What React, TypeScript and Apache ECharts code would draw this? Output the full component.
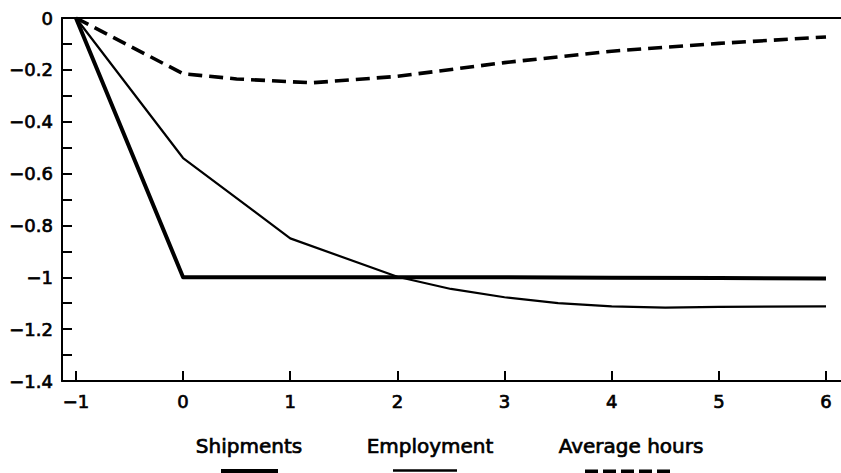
import React, { useEffect, useRef } from "react";
import * as echarts from "echarts";

// ---- data ----
const xTicks = [-1, 0, 1, 2, 3, 4, 5, 6];

const shipmentsX = [-1, 0, 1, 2, 3, 4, 5, 6];
const shipmentsY = [0, -1.0, -1.0, -1.0, -1.0, -1.002, -1.003, -1.005];

const employmentX = [-1, 0, 1, 2, 2.5, 3, 3.5, 4, 4.5, 5, 6];
const employmentY = [0, -0.54, -0.85, -0.998, -1.045, -1.077, -1.1, -1.112, -1.117, -1.114, -1.112];

const hoursX = [-1, 0, 0.5, 1.2, 2, 3, 4, 5, 6];
const hoursY = [0, -0.215, -0.235, -0.25, -0.225, -0.172, -0.128, -0.098, -0.073];

const legendNames = ["Shipments", "Employment", "Average hours"];

const FONT = '"DejaVu Sans", sans-serif';

function pairs(xs: number[], ys: number[]): [number, number][] {
  return xs.map((x, i) => [x, ys[i]]);
}

function fmt(v: number): string {
  const r = Math.round(v * 10) / 10;
  if (r === 0) return "0";
  const s = String(Math.abs(r));
  return (r < 0 ? "\u2212" : "") + s;
}

export default function App() {
  const ref = useRef<HTMLDivElement>(null);

  useEffect(() => {
    if (!ref.current) return;
    const chart = echarts.init(ref.current, null, { renderer: "svg" });
    const labelStyle = {
      color: "#000",
      fontFamily: FONT,
      fontSize: 18,
      textBorderColor: "#000",
      textBorderWidth: 0.7,
    };
    const legendText = (text: string, x: number) => ({
      type: "text",
      x,
      y: 446,
      style: {
        text,
        font: `20px ${FONT}`,
        fill: "#000",
        stroke: "#000",
        lineWidth: 0.7,
        align: "center",
        verticalAlign: "middle",
      },
    });
    const option: any = {
      animation: false,
      backgroundColor: "#fff",
      grid: { left: 62, right: 0, top: 18, bottom: 92, containLabel: false },
      xAxis: [
        {
          type: "value",
          position: "bottom",
          min: -1.13,
          max: 6.14,
          axisLine: { show: true, onZero: false, lineStyle: { color: "#000", width: 2 } },
          axisTick: {
            show: true,
            inside: true,
            length: 10,
            customValues: xTicks,
            lineStyle: { color: "#000", width: 2 },
          },
          axisLabel: {
            show: true,
            customValues: xTicks,
            margin: 11,
            formatter: (v: number) => fmt(v),
            ...labelStyle,
          },
          splitLine: { show: false },
        },
        {
          type: "value",
          position: "top",
          min: -1.13,
          max: 6.14,
          axisLine: { show: true, onZero: false, lineStyle: { color: "#000", width: 2 } },
          axisTick: { show: false },
          axisLabel: { show: false },
          splitLine: { show: false },
        },
      ],
      yAxis: {
        type: "value",
        min: -1.4,
        max: 0,
        interval: 0.1,
        axisLine: { show: true, onZero: false, lineStyle: { color: "#000", width: 2 } },
        axisTick: { show: true, inside: true, length: 10, lineStyle: { color: "#000", width: 2 } },
        axisLabel: {
          margin: 9,
          ...labelStyle,
          formatter: (v: number) => {
            const k = Math.round(v * 10);
            return k % 2 === 0 ? fmt(v) : "";
          },
        },
        splitLine: { show: false },
      },
      series: [
        {
          name: legendNames[0],
          type: "line",
          data: pairs(shipmentsX, shipmentsY),
          showSymbol: false,
          lineStyle: { color: "#000", width: 4, join: "round" },
        },
        {
          name: legendNames[1],
          type: "line",
          data: pairs(employmentX, employmentY),
          showSymbol: false,
          lineStyle: { color: "#000", width: 2.2 },
        },
        {
          name: legendNames[2],
          type: "line",
          data: pairs(hoursX, hoursY),
          showSymbol: false,
          lineStyle: { color: "#000", width: 3.6, type: [14, 7] },
        },
      ],
      graphic: [
        legendText(legendNames[0], 249),
        legendText(legendNames[1], 430),
        legendText(legendNames[2], 631),
        {
          type: "rect",
          shape: { x: 221, y: 469, width: 57, height: 6 },
          style: { fill: "#000" },
        },
        {
          type: "line",
          shape: { x1: 393, y1: 470.5, x2: 457, y2: 470.5 },
          style: { stroke: "#000", lineWidth: 2.5 },
        },
        {
          type: "line",
          shape: { x1: 585, y1: 471.5, x2: 670, y2: 471.5 },
          style: { stroke: "#000", lineWidth: 4, lineDash: [13, 5] },
        },
      ],
    };
    chart.setOption(option);
    return () => chart.dispose();
  }, []);

  return (
    <div
      ref={ref}
      style={{ position: "absolute", left: 0, top: 0, width: 841, height: 473, background: "#fff" }}
    />
  );
}
